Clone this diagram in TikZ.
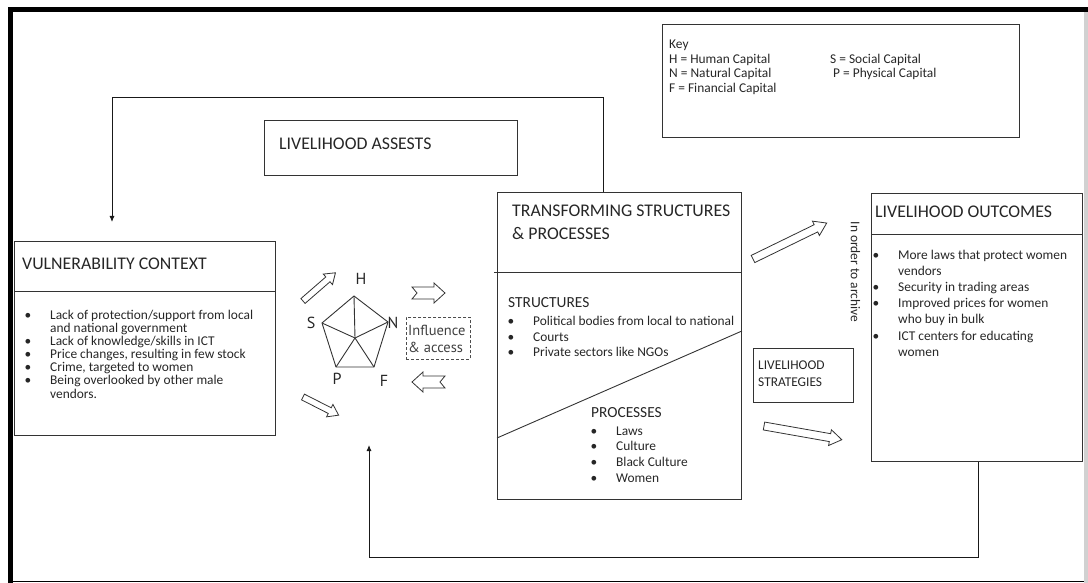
\documentclass[tikz,border=0pt]{standalone}
\usepackage{fontspec}
\setmainfont{Carlito}
\newfontfamily\pts{PT Sans}
\usetikzlibrary{arrows.meta}
\definecolor{ink}{HTML}{262626}
\definecolor{edge}{HTML}{333333}
\newcommand\blockarr[8]{% x y angle length shaft-half head-half head-length notch
  \draw[barrow, shift={(#1,#2)}, rotate=#3] (0,-#5) -- (#4-#7,-#5) -- (#4-#7,-#6) -- (#4,0) -- (#4-#7,#6) -- (#4-#7,#5) -- (0,#5) -- (#8,0) -- cycle;}
\begin{document}
\begin{tikzpicture}[x=1pt,y=-1pt,
  box/.style={draw=edge, line width=0.9pt, inner sep=0pt, anchor=north west},
  dbox/.style={draw=black!70, line width=0.9pt, dash pattern=on 3pt off 2pt, inner sep=0pt, anchor=north west},
  txt/.style={inner sep=0pt, anchor=west, text=ink, text height=0.644em, text depth=0pt, font=\fontsize{13.4}{15}\selectfont},
  ttl/.style={txt, font=\fontsize{17.8}{20}\selectfont},
  sub/.style={txt, font=\fontsize{15.4}{18}\selectfont},
  bul/.style={inner sep=0pt, anchor=center, text=ink, font=\fontsize{13.4}{15}\selectfont},
  plab/.style={inner sep=0pt, anchor=center, text=ink, font=\pts\fontsize{16}{18}\selectfont},
  ilab/.style={inner sep=0pt, anchor=west, text=black!75, text height=0.7em, text depth=0pt, font=\pts\fontsize{14.5}{16}\selectfont},
  conn/.style={draw=black!90, line width=0.9pt},
  tip/.style={-{Latex[length=6pt,width=5pt]}},
  barrow/.style={draw=edge, line width=0.8pt, fill=white, line join=miter},
  pent/.style={draw=edge, line width=0.9pt}]
\useasboundingbox (0,0) rectangle (1088,583);
% frame
\fill[black] (8,7) rectangle (13,583);
\fill[black] (8,7) rectangle (1088,12);
\draw[black, line width=1pt] (8,581.5) -- (1085,581.5);
\fill[black!18] (1084,12) rectangle (1087.5,583);

% boxes
\node[box, minimum width=357pt, minimum height=113pt] (key) at (662,24) {};
\node[box, minimum width=253pt, minimum height=55pt] (assets) at (264,120) {};
\node[box, minimum width=261pt, minimum height=194pt] (vul) at (14,241) {};
\node[box, minimum width=244pt, minimum height=307pt] (trans) at (497,192) {};
\node[box, minimum width=100pt, minimum height=54pt] (strat) at (753,348) {};
\node[box, minimum width=211pt, minimum height=268pt] (outc) at (871,193) {};
\node[dbox, minimum width=64pt, minimum height=42pt] (inf) at (406,317) {};

% dividers
\draw[conn, draw=edge] (vul.west |- 0,291) -- (vul.east |- 0,291);
\draw[conn, draw=edge] (494,272) -- (trans.east |- 0,272);
\draw[conn, draw=edge] (trans.west |- 0,438) -- (trans.east |- 0,331);
\draw[conn, draw=edge] (outc.west |- 0,234) -- (outc.east |- 0,234);

% feedback connectors
\coordinate (vtop) at (112,222);
\coordinate (atop) at (369,445);
\draw[conn, tip] (603,0 |- trans.north) -- (603,97) -| (vtop);
\draw[conn, tip] (978,0 |- outc.south) -- (978,557) -| (atop);

% key
\node[txt] (k0) at (669,45) {Key};
\node[txt] (k1) at (669,60) {H = Human Capital};
\node[txt] (k2) at (830,60) {S = Social Capital};
\node[txt] (k3) at (669,74) {N = Natural Capital};
\node[txt] (k4) at (833,74) {P = Physical Capital};
\node[txt] (k5) at (669,89) {F = Financial Capital};

% livelihood assets
\node[ttl] (at) at (279,146) {LIVELIHOOD ASSESTS};

% vulnerability
\node[ttl] (vt) at (22,266) {VULNERABILITY CONTEXT};
\node[bul] (vb1) at (28,316) {•};
\node[bul] (vb2) at (28,342) {•};
\node[bul] (vb3) at (28,355) {•};
\node[bul] (vb4) at (28,368) {•};
\node[bul] (vb5) at (28,381) {•};
\node[txt] (v1) at (50,316) {Lack of protection/support from local};
\node[txt] (v2) at (50,329) {and national government};
\node[txt] (v3) at (50,342) {Lack of knowledge/skills in ICT};
\node[txt] (v4) at (50,355) {Price changes, resulting in few stock};
\node[txt] (v5) at (50,368) {Crime, targeted to women};
\node[txt] (v6) at (50,381) {Being overlooked by other male};
\node[txt] (v7) at (50,395) {vendors.};

% transforming structures
\node[ttl] (tt1) at (512,213) {TRANSFORMING STRUCTURES};
\node[ttl] (tt2) at (512,236) {\& PROCESSES};
\node[sub] (st) at (508,304) {STRUCTURES};
\node[bul] (sb1) at (511,322) {•};
\node[bul] (sb2) at (511,338) {•};
\node[bul] (sb3) at (511,353) {•};
\node[txt] (s1) at (533,322) {Political bodies from local to national};
\node[txt] (s2) at (533,338) {Courts};
\node[txt] (s3) at (533,353) {Private sectors like NGOs};
\node[sub] (pt) at (591,414) {PROCESSES};
\node[bul] (pb1) at (594,432) {•};
\node[bul] (pb2) at (594,447) {•};
\node[bul] (pb3) at (594,463) {•};
\node[bul] (pb4) at (594,479) {•};
\node[txt] (p1) at (616,432) {Laws};
\node[txt] (p2) at (616,447) {Culture};
\node[txt] (p3) at (616,463) {Black Culture};
\node[txt] (p4) at (616,479) {Women};

% strategies
\node[txt] (ls1) at (758,366) {LIVELIHOOD};
\node[txt] (ls2) at (758,383) {STRATEGIES};

% outcomes
\node[ttl] (ot) at (875,214) {LIVELIHOOD OUTCOMES};
\node[bul] (ob1) at (876,256) {•};
\node[bul] (ob2) at (876,288) {•};
\node[bul] (ob3) at (876,304) {•};
\node[bul] (ob4) at (876,337) {•};
\node[txt] (o1) at (898,256) {More laws that protect women};
\node[txt] (o2) at (898,272) {vendors};
\node[txt] (o3) at (898,288) {Security in trading areas};
\node[txt] (o4) at (898,304) {Improved prices for women};
\node[txt] (o5) at (898,320) {who buy in bulk};
\node[txt] (o6) at (898,337) {ICT centers for educating};
\node[txt] (o7) at (898,353) {women};

\node[txt, anchor=center, rotate=-90] (ord) at (854,272) {In order to archive};

% pentagon
\coordinate (pH) at (354,296);
\coordinate (pN) at (388,322);
\coordinate (pF) at (374,367);
\coordinate (pP) at (336,367);
\coordinate (pS) at (322,323);
\coordinate (pC) at (355,338);
\draw[pent, line join=miter] (pH) -- (pN) -- (pF) -- (pP) -- (pS) -- cycle;
\draw[pent] (pC) -- (pH);
\draw[pent] (pC) -- (pN);
\draw[pent] (pC) -- (pF);
\draw[pent] (pC) -- (pP);
\draw[pent] (pC) -- (pS);
\node[plab] (lH) at (361,279) {H};
\node[plab] (lS) at (311,323) {S};
\node[plab] (lN) at (393,323) {N};
\node[plab] (lP) at (337,379) {P};
\node[plab] (lF) at (384,381) {F};
\node[ilab] (i1) at (408,332) {Influence};
\node[ilab] (i2) at (408,349) {\& access};

% block arrows
\blockarr{303}{301}{41}{43}{3.2}{7}{10}{0}
\blockarr{303}{397}{-27}{40}{3.2}{7}{10}{0}
\blockarr{412}{293}{0}{33}{6}{10}{11}{5}
\blockarr{445}{382}{180}{33}{6}{10}{11}{5}
\blockarr{753}{259}{26}{82}{4}{8}{12}{0}
\blockarr{764}{426}{-10}{79}{4}{8}{12}{0}
\end{tikzpicture}
\end{document}
